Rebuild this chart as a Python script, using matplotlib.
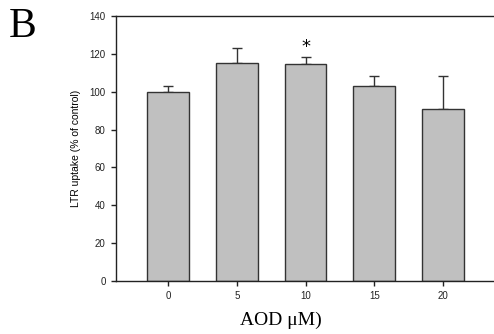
import numpy as np
import matplotlib.pyplot as plt

conc = ['0', '5', '10', '15', '20']
uptake = [100, 115.2, 114.6, 102.8, 90.9]
sem = [3.0, 7.7, 3.6, 5.6, 17.2]
sig = ['', '', '*', '', '']

fig = plt.figure(figsize=(4.94, 3.34), dpi=100)
ax = fig.add_axes([116/494, 1 - 281/334, (493-116)/494, (281-16)/334])

x = np.arange(len(conc))
ax.bar(x, uptake, width=0.61, color='#c0c0c0', edgecolor='#333333', linewidth=1.0, zorder=2)
ax.errorbar(x, uptake, yerr=[np.zeros(len(sem)), sem], fmt='none', ecolor='#333333',
            elinewidth=1.0, capsize=3.5, capthick=1.0, zorder=1)
for xi, yi, e, s in zip(x, uptake, sem, sig):
    if s:
        ax.text(xi, yi + e + 0.5, s, ha='center', va='bottom', fontsize=13,
                family='DejaVu Sans')

ax.set_xlim(-0.76, 4.73)
ax.set_ylim(0, 140)
ax.set_yticks(range(0, 141, 20))
ax.set_xticks(x)
ax.set_xticklabels(conc)
ax.spines['right'].set_visible(False)
for sp in ['left', 'bottom', 'top']:
    ax.spines[sp].set_linewidth(1.0)
    ax.spines[sp].set_color('#222222')
ax.tick_params(axis='both', direction='out', length=3.5, width=1.0, labelsize=7,
               colors='#222222', pad=4)
for lab in ax.get_xticklabels() + ax.get_yticklabels():
    lab.set_family('Liberation Sans')
ax.set_ylabel('LTR uptake (% of control)', fontsize=7.5, family='Liberation Sans', labelpad=6)

fig.text(281/494, 1 - 320/334, 'AOD \u03bcM)', ha='center', va='center', fontsize=14,
         family='Liberation Serif')
fig.text(9/494, 1 - 27/334, 'B', ha='left', va='center', fontsize=30,
         family='Liberation Serif')

fig.savefig('out.png', dpi=100)
